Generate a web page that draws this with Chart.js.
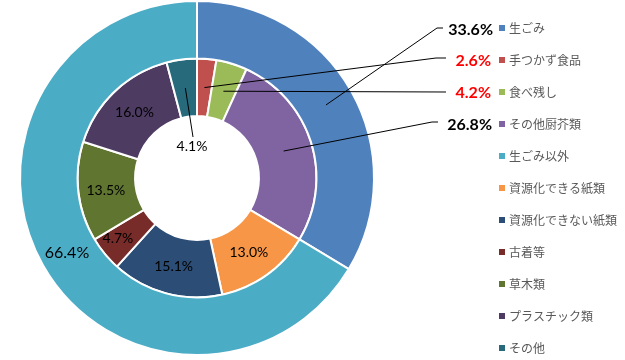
<!DOCTYPE html>
<html><head><meta charset="utf-8">
<script src="https://cdn.jsdelivr.net/npm/chart.js@4/dist/chart.umd.min.js"></script>
<style>html,body{margin:0;padding:0;background:#fff;overflow:hidden;}</style>
</head><body>
<canvas id="c" width="625" height="360" style="width:625px;height:360px;display:block"></canvas>
<script>
// ---- data ----
const outerCategories = ['生ごみ', '生ごみ以外'];
const outerValues = [33.6, 66.4];
const innerCategories = ['手つかず食品', '食べ残し', 'その他厨芥類', '資源化できる紙類', '資源化できない紙類', '古着等', '草木類', 'プラスチック類', 'その他'];
const innerValues = [2.6, 4.2, 26.8, 13.0, 15.1, 4.7, 13.5, 16.0, 4.1];
const legendLabels = ['生ごみ', '手つかず食品', '食べ残し', 'その他厨芥類', '生ごみ以外', '資源化できる紙類', '資源化できない紙類', '古着等', '草木類', 'プラスチック類', 'その他'];

// ---- styles ----
const outerColors = ['#4F81BD', '#4BACC6'];
const innerColors = ['#C0504D', '#9BBB59', '#8064A2', '#F79646', '#2C4D75', '#772C2A', '#5F7530', '#4D3B62', '#276A7C'];
const legendColors = [outerColors[0], innerColors[0], innerColors[1], innerColors[2], outerColors[1], innerColors[3], innerColors[4], innerColors[5], innerColors[6], innerColors[7], innerColors[8]];

// label placement: callouts (right-aligned text with leader), inside labels (offset from centroid), hole label
const labelPlacement = {
  '0-0': {type: 'callout', tx: 493, ty: 30, ex: 443, bx: 437, ey: 28, color: '#000000'},
  '0-1': {type: 'inside', dx: -1, dy: 2, size: 16, color: '#000000'},
  '1-0': {type: 'callout', tx: 491, ty: 61, ex: 446, bx: 436, ey: 58, color: '#FF0000'},
  '1-1': {type: 'callout', tx: 491, ty: 93, ex: 446, bx: 446, ey: 92, color: '#FF0000'},
  '1-2': {type: 'callout', tx: 492, ty: 125, ex: 438, bx: 432, ey: 122, color: '#000000'},
  '1-3': {type: 'inside', dx: -1, dy: 1, size: 14, color: '#000000'},
  '1-4': {type: 'inside', dx: 0, dy: 1, size: 14, color: '#000000'},
  '1-5': {type: 'inside', dx: -9, dy: 3, size: 14, color: '#000000'},
  '1-6': {type: 'inside', dx: -1, dy: 2, size: 14, color: '#000000'},
  '1-7': {type: 'inside', dx: 0, dy: 0, size: 14, color: '#000000'},
  '1-8': {type: 'hole', lx: 193, ly: 137, tx: 192, ty: 146, size: 14, color: '#000000'}
};

const labelPlugin = {
  id: 'labels',
  afterDatasetsDraw(chart) {
    const ctx = chart.ctx;
    ctx.save();
    chart.data.datasets.forEach((ds, di) => {
      const meta = chart.getDatasetMeta(di);
      meta.data.forEach((arc, i) => {
        const p = labelPlacement[di + '-' + i];
        if (!p) return;
        const c = arc.getCenterPoint();
        const txt = ds.data[i].toFixed(1) + '%';
        if (p.type === 'callout') {
          ctx.strokeStyle = '#000';
          ctx.lineWidth = 1;
          ctx.beginPath();
          ctx.moveTo(c.x, c.y);
          ctx.lineTo(p.bx, p.ey);
          ctx.lineTo(p.ex, p.ey);
          ctx.stroke();
          ctx.font = 'bold 16px Lato';
          ctx.fillStyle = p.color;
          ctx.textAlign = 'right';
          ctx.textBaseline = 'middle';
          ctx.fillText(txt, p.tx, p.ty);
        } else if (p.type === 'inside') {
          ctx.font = p.size + 'px Lato';
          ctx.fillStyle = p.color;
          ctx.textAlign = 'center';
          ctx.textBaseline = 'middle';
          ctx.fillText(txt, c.x + p.dx, c.y + p.dy);
        } else if (p.type === 'hole') {
          ctx.strokeStyle = '#000';
          ctx.lineWidth = 1;
          ctx.beginPath();
          ctx.moveTo(c.x, c.y);
          ctx.lineTo(p.lx, p.ly);
          ctx.stroke();
          ctx.font = p.size + 'px Lato';
          ctx.fillStyle = p.color;
          ctx.textAlign = 'center';
          ctx.textBaseline = 'middle';
          ctx.fillText(txt, p.tx, p.ty);
        }
      });
    });
    // legend
    ctx.font = '12px "Noto Sans CJK JP"';
    ctx.textAlign = 'left';
    ctx.textBaseline = 'middle';
    legendLabels.forEach((lab, i) => {
      const y = 28 + i * 32;
      ctx.fillStyle = legendColors[i];
      ctx.fillRect(499, y - 3, 6, 6);
      ctx.fillStyle = '#595959';
      ctx.fillText(lab, 509, y);
    });
    ctx.restore();
  }
};

new Chart(document.getElementById('c'), {
  type: 'doughnut',
  data: {
    labels: legendLabels,
    datasets: [
      {label: '大分類', data: outerValues, backgroundColor: outerColors, borderColor: '#FFFFFF', borderWidth: 2},
      {label: '内訳', data: innerValues, backgroundColor: innerColors, borderColor: '#FFFFFF', borderWidth: 2}
    ]
  },
  options: {
    responsive: false,
    animation: false,
    cutout: '35%',
    layout: {padding: {left: 19, right: 250, top: 0, bottom: 4}},
    plugins: {legend: {display: false}, tooltip: {enabled: false}}
  },
  plugins: [labelPlugin]
});
</script>
</body></html>
